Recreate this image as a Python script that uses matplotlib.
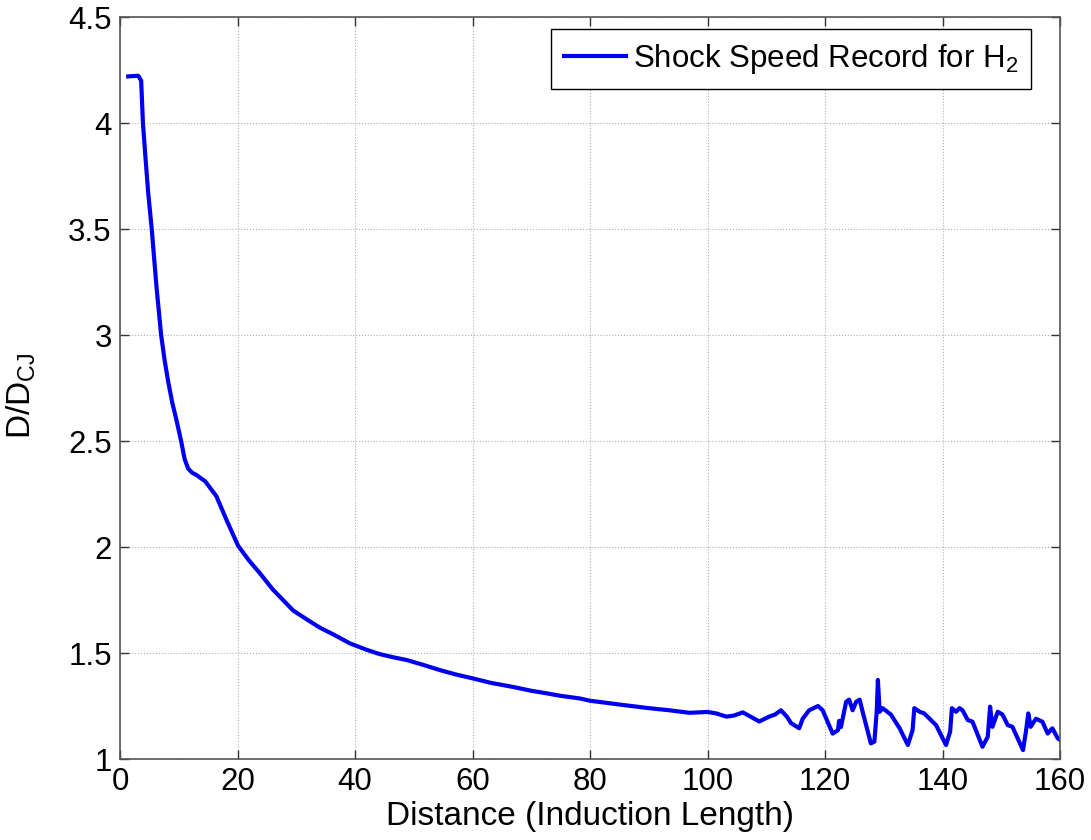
import matplotlib
matplotlib.use('Agg')
import matplotlib.pyplot as plt

plt.rcParams['font.family'] = ['Liberation Sans', 'DejaVu Sans']
plt.rcParams['mathtext.default'] = 'regular'

# distance in induction lengths
dist = [1.4, 3.1, 3.6, 3.9, 4.3, 4.8, 5.4, 6.2, 7.0, 7.6,
        8.2, 8.9, 9.6, 10.4, 11.0, 11.6, 12.3, 13.0, 14.5, 16.4,
        18.2, 20.1, 22.0, 23.7, 26.0, 29.5, 32.0, 34.0, 36.5, 39.1,
        42.0, 44.2, 46.5, 48.8, 51.5, 54.4, 57.0, 60.1, 63.0, 66.9,
        70.0, 72.6, 75.0, 78.2, 80.0, 85.6, 90.0,
        93.5, 96.9, 100.0, 101.5, 103.2, 104.5, 106.0, 107.0, 108.8, 110.5,
        111.5, 112.5, 113.5, 114.2, 115.6, 116.2, 117.3, 118.8, 119.6, 121.3,
        122.2, 122.4, 122.7, 123.6, 124.1, 124.7, 125.3, 125.9, 126.4, 127.8,
        128.4, 128.8, 129.0, 129.3, 129.8, 131.2, 132.7, 134.1, 134.9, 135.2,
        136.1, 136.9, 137.8, 138.9, 140.6, 141.3, 141.6, 142.3, 142.9, 143.4,
        144.3, 145.1, 146.8, 147.7, 148.1, 148.5, 149.4, 150.2, 151.1, 151.9,
        153.7, 154.2, 154.6, 155.0, 155.9, 157.0, 157.9, 158.7, 159.6, 160.0]

# D/D_CJ
speed = [4.22, 4.223, 4.20, 4.00, 3.85, 3.67, 3.50, 3.23, 3.00, 2.88,
         2.78, 2.68, 2.60, 2.50, 2.415, 2.37, 2.35, 2.34, 2.31, 2.24,
         2.123, 2.006, 1.935, 1.88, 1.80, 1.70, 1.655, 1.62, 1.585, 1.546,
         1.515, 1.495, 1.48, 1.467, 1.445, 1.42, 1.40, 1.38, 1.36, 1.34,
         1.322, 1.31, 1.298, 1.286, 1.275, 1.255, 1.24,
         1.23, 1.218, 1.222, 1.215, 1.20, 1.205, 1.22, 1.205, 1.177, 1.20,
         1.21, 1.23, 1.20, 1.17, 1.145, 1.19, 1.23, 1.25, 1.23, 1.12,
         1.136, 1.18, 1.15, 1.27, 1.28, 1.23, 1.27, 1.28, 1.223, 1.074,
         1.082, 1.223, 1.373, 1.223, 1.24, 1.21, 1.145, 1.066, 1.136, 1.24,
         1.223, 1.215, 1.19, 1.16, 1.066, 1.13, 1.24, 1.223, 1.24, 1.23,
         1.184, 1.176, 1.058, 1.105, 1.247, 1.152, 1.223, 1.21, 1.16, 1.152,
         1.042, 1.13, 1.215, 1.152, 1.19, 1.176, 1.12, 1.145, 1.098, 1.09]

xticks = [0, 20, 40, 60, 80, 100, 120, 140, 160]
yticks = [1, 1.5, 2, 2.5, 3, 3.5, 4, 4.5]
yticklabels = ['1', '1.5', '2', '2.5', '3', '3.5', '4', '4.5']

fig = plt.figure(figsize=(10.91, 8.4), dpi=100)
ax = fig.add_axes([0.110, 0.0964, 0.8616, 0.8833])

ax.plot(dist, speed, color='#0000ee', lw=3, label='Shock Speed Record for H$_2$')

ax.set_xlim(0, 160)
ax.set_ylim(1, 4.5)
ax.set_xticks(xticks)
ax.set_yticks(yticks)
ax.set_yticklabels(yticklabels)
ax.grid(True, ls=':', color='#b0b0b0', lw=0.8)
ax.tick_params(direction='in', top=True, right=True, length=6.5, width=1,
               labelsize=22.5, pad=6, color='#333333')
for s in ax.spines.values():
    s.set_color('#555555')
    s.set_linewidth(1.2)

ax.set_xlabel('Distance (Induction Length)', fontsize=24)
ax.set_ylabel('D/D$_{CJ}$', fontsize=24)
ax.xaxis.set_label_coords(0.5, -0.056)
ax.yaxis.set_label_coords(-0.087, 0.49)

leg = ax.legend(loc='upper right', bbox_to_anchor=(0.969, 0.984), borderaxespad=0,
                fontsize=22.5, fancybox=False, edgecolor='black', framealpha=1,
                handlelength=2.0, handletextpad=0.2, borderpad=0.42)
leg.get_frame().set_linewidth(1)

fig.savefig('out.png', dpi=100)
